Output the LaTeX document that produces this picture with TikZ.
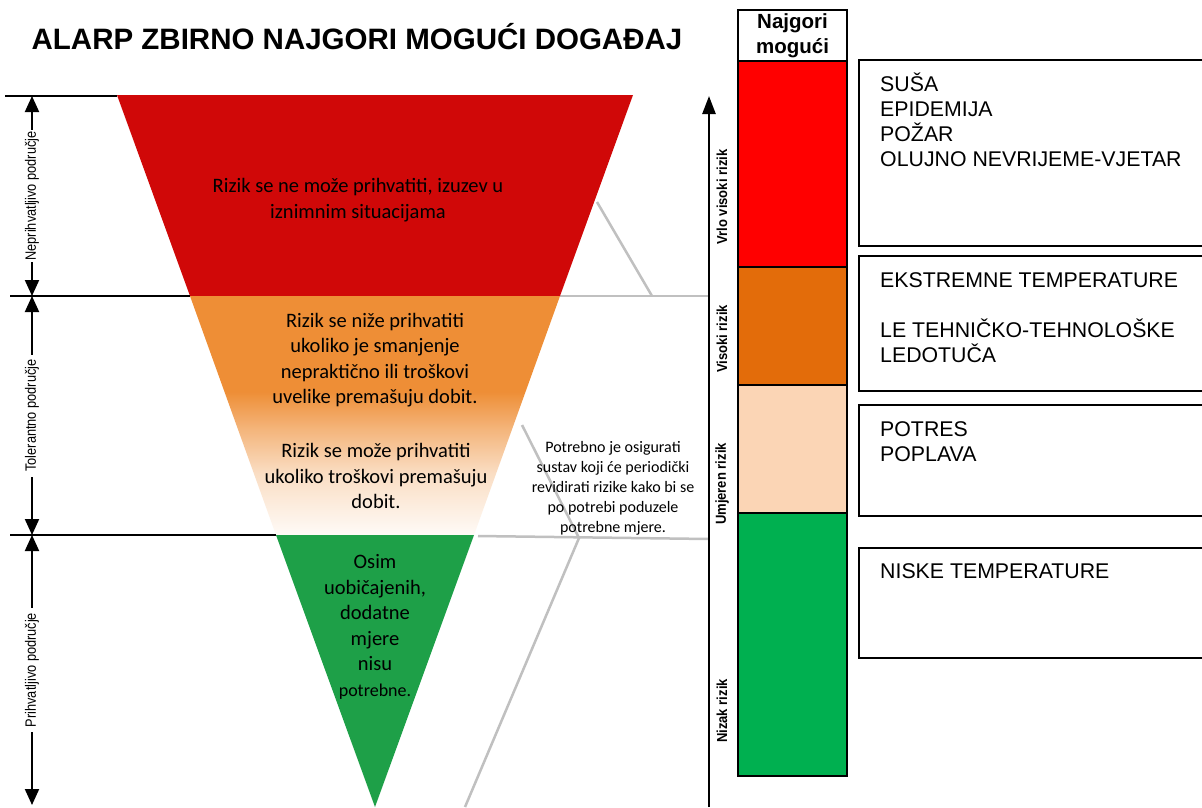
\documentclass[tikz,border=0pt]{standalone}
\usepackage{fontspec}
\setmainfont{Liberation Sans}
\newfontfamily\calfont{Carlito}
\newfontfamily\narrowfont[FakeStretch=0.85]{Liberation Sans}
\newfontfamily\narrowbold[FakeStretch=0.9]{Liberation Sans Bold}
\usetikzlibrary{arrows.meta}
\definecolor{fred}{RGB}{208,8,8}
\definecolor{forange}{RGB}{238,142,54}
\definecolor{fgreen}{RGB}{30,160,72}
\definecolor{cred}{RGB}{255,0,0}
\definecolor{corange}{RGB}{227,108,10}
\definecolor{cpeach}{RGB}{251,213,181}
\definecolor{cgreen}{RGB}{0,176,80}
\definecolor{gline}{RGB}{192,192,192}
\colorlet{fo1}{white!96!forange}
\colorlet{fo2}{forange!30}
\colorlet{fo3}{forange!65}
\pgfdeclareverticalshading{orfade}{100bp}{color(0bp)=(white); color(25bp)=(fo1); color(38bp)=(fo2); color(47bp)=(fo3); color(55bp)=(forange); color(100bp)=(forange)}
\tikzset{
  bigtip/.tip={Triangle[length=16pt,width=14pt]},
  dimarrow/.style={line width=2pt, bigtip-bigtip},
  dimlabel/.style={rotate=90, fill=white, inner sep=5pt, font=\narrowfont\fontsize{15}{17}\selectfont},
  tickline/.style={line width=1.5pt},
  greyline/.style={gline, line width=2.5pt},
  ftext/.style={font=\calfont\fontsize{20.5}{25.5}\selectfont, align=center, inner sep=0pt},
  notetext/.style={font=\calfont\fontsize{16}{20}\selectfont, align=center, inner sep=0pt},
  axislabel/.style={rotate=90, font=\narrowbold\fontsize{14.5}{16}\selectfont, inner sep=0pt},
  colcell/.style={draw, line width=1.8pt},
  riskbox/.style={draw, line width=1.8pt},
  boxtext/.style={font=\fontsize{21.3}{25}\selectfont, align=left, anchor=north west, inner sep=0pt},
}
\begin{document}
\begin{tikzpicture}[x=1pt,y=-1pt]
\useasboundingbox (0,0) rectangle (1202,807);
\clip (0,0) rectangle (1202,807);
\fill[white] (0,0) rectangle (1202,807);

% title
\node[font=\bfseries\fontsize{29.5}{32}\selectfont, inner sep=0pt] (title) at (357,37) {ALARP ZBIRNO NAJGORI MOGUĆI DOGAĐAJ};

% grey connector lines
\coordinate (g1a) at (597,202);
\coordinate (g1b) at (652,296);
\coordinate (g1c) at (560,296);
\coordinate (g1d) at (709,296);
\draw[greyline] (g1a) -- (g1b);
\draw[greyline] (g1c) -- (g1d);
\coordinate (g2a) at (522,425);
\coordinate (g2b) at (579,538);
\coordinate (g2c) at (465,807);
\coordinate (g2d) at (478,536);
\coordinate (g2e) at (709,539);
\draw[greyline] (g2a) -- (g2b) -- (g2c);
\draw[greyline] (g2d) -- (g2e);

% funnel
\fill[fred] (117,95) -- (633,95) -- (560,296) -- (190,296) -- cycle;
\shade[shading=orfade] (190,296) -- (560,296) -- (474,535) -- (276,535) -- cycle;
\fill[fgreen] (276,535) -- (474,535) -- (375,807) -- cycle;

\node[ftext] (tred) at (358,200) {Rizik se ne može prihvatiti, izuzev u\\iznimnim situacijama};
\node[ftext] (tor1) at (375,360) {Rizik se niže prihvatiti\\ukoliko je smanjenje\\nepraktično ili troškovi\\uvelike premašuju dobit.};
\node[ftext] (tor2) at (376,476) {Rizik se može prihvatiti\\ukoliko troškovi premašuju\\dobit.};
\node[ftext] (tgr) at (375,627) {Osim\\uobičajenih,\\dodatne\\mjere\\nisu\\{\fontsize{18}{25.5}\selectfont potrebne.}};
\node[notetext] (note) at (613,488) {Potrebno je osigurati\\sustav koji će periodički\\revidirati rizike kako bi se\\po potrebi poduzele\\potrebne mjere.};

% left dimension lines
\draw[tickline] (5,96) -- (117,96);
\draw[tickline] (10,296) -- (190,296);
\draw[tickline] (10,535) -- (276,535);
\coordinate (d0) at (32,96);
\coordinate (d1) at (32,296);
\coordinate (d2) at (32,535);
\coordinate (d3) at (32,805);
\draw[dimarrow] (d0) -- node[dimlabel, inner sep=2pt] (l1) {Neprihvatljivo područje} (d1);
\draw[dimarrow] (d1) -- node[dimlabel] (l2) {Tolerantno područje} (d2);
\draw[dimarrow] (d2) -- node[dimlabel] (l3) {Prihvatljivo područje} (d3);

% middle axis
\coordinate (a0) at (709,807);
\coordinate (a1) at (709,96);
\draw[line width=2.5pt, -{Triangle[length=18pt,width=13pt]}] (a0) -- (a1);
\node[axislabel] (ax1) at (722,197) {Vrlo visoki rizik};
\node[axislabel] (ax2) at (722,339) {Visoki rizik};
\node[axislabel] (ax3) at (722,484) {Umjeren rizik};
\node[axislabel] (ax4) at (722,711) {Nizak rizik};

% colour column
\draw[colcell, fill=white] (738,10) rectangle (847,61);
\node[font=\bfseries\fontsize{20.5}{25}\selectfont, align=center, inner sep=0pt] (head) at (792.5,36) {Najgori\\mogući};
\draw[colcell, fill=cred] (738,61) rectangle (847,267);
\draw[colcell, fill=corange] (738,267) rectangle (847,385);
\draw[colcell, fill=cpeach] (738,385) rectangle (847,513);
\draw[colcell, fill=cgreen] (738,513) rectangle (847,776);

% right boxes
\draw[riskbox] (859,60) rectangle (1215,246);
\draw[riskbox] (859,256) rectangle (1215,391);
\draw[riskbox] (859,405) rectangle (1215,516);
\draw[riskbox] (859,548) rectangle (1215,658);
\node[boxtext] (b1) at (880,73) {SUŠA\\EPIDEMIJA\\POŽAR\\OLUJNO NEVRIJEME-VJETAR};
\node[boxtext] (b2) at (880,272) {EKSTREMNE TEMPERATURE\\[25pt]LE TEHNIČKO-TEHNOLOŠKE\\LEDOTUČA};
\node[boxtext] (b3) at (880,421) {POTRES\\POPLAVA};
\node[boxtext] (b4) at (880,563) {NISKE TEMPERATURE};
\end{tikzpicture}
\end{document}
